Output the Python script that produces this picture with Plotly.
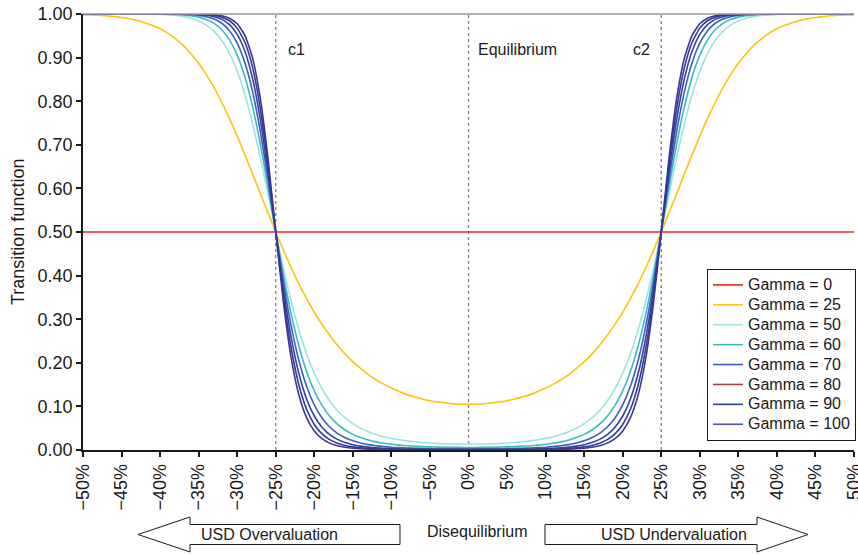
import plotly.graph_objects as go

# ---------------- data ----------------
# x positions, in percent of disequilibrium
x_pct = [-50, -49, -48, -47, -46, -45, -44, -43, -42, -41, -40, -39, -38, -37, -36, -35, -34, -33, -32, -31,
         -30, -29, -28, -27, -26, -25, -24, -23, -22, -21, -20, -19, -18, -17, -16, -15, -14, -13, -12, -11,
         -10, -9, -8, -7, -6, -5, -4, -3, -2, -1, 0, 1, 2, 3, 4, 5, 6, 7, 8, 9,
         10, 11, 12, 13, 14, 15, 16, 17, 18, 19, 20, 21, 22, 23, 24, 25, 26, 27, 28, 29,
         30, 31, 32, 33, 34, 35, 36, 37, 38, 39, 40, 41, 42, 43, 44, 45, 46, 47, 48, 49, 50]

# readings for x = 0%, 1%, ... 50% (the chart is symmetric about 0%)
g25_half = [0.105, 0.105, 0.106, 0.108, 0.110, 0.113, 0.117, 0.122, 0.127, 0.134,
            0.142, 0.151, 0.161, 0.173, 0.187, 0.202, 0.220, 0.240, 0.263, 0.288,
            0.316, 0.347, 0.381, 0.418, 0.458, 0.500, 0.544, 0.588, 0.633, 0.677,
            0.720, 0.760, 0.797, 0.831, 0.861, 0.887, 0.909, 0.928, 0.943, 0.956,
            0.966, 0.974, 0.980, 0.985, 0.989, 0.992, 0.994, 0.996, 0.997, 0.998, 0.998]
g50_half = [0.0136, 0.0137, 0.0139, 0.0144, 0.0151, 0.0161, 0.0173, 0.0189, 0.0209, 0.0234,
            0.0266, 0.0305, 0.0356, 0.0420, 0.0501, 0.0604, 0.0737, 0.0907, 0.1126, 0.1405,
            0.1760, 0.2206, 0.2754, 0.3411, 0.4167, 0.5000, 0.5866, 0.6711, 0.7485, 0.8149,
            0.8684, 0.9093, 0.9392, 0.9602, 0.9745, 0.9840, 0.9901, 0.9940, 0.9964, 0.9979,
            0.9988, 0.9993, 0.9996, 0.9998, 0.9999, 0.9999, 1.0, 1.0, 1.0, 1.0, 1.0]
g60_half = [0.0058, 0.0059, 0.0060, 0.0063, 0.0066, 0.0071, 0.0078, 0.0087, 0.0098, 0.0112,
            0.0131, 0.0156, 0.0187, 0.0229, 0.0285, 0.0358, 0.0458, 0.0592, 0.0775, 0.1022,
            0.1356, 0.1803, 0.2386, 0.3121, 0.4005, 0.5000, 0.6034, 0.7018, 0.7873, 0.8554,
            0.9058, 0.9408, 0.9639, 0.9785, 0.9875, 0.9929, 0.9960, 0.9978, 0.9988, 0.9994,
            0.9997, 0.9998, 0.9999, 1.0, 1.0, 1.0, 1.0, 1.0, 1.0, 1.0, 1.0]
g70_half = [0.0025, 0.0025, 0.0026, 0.0027, 0.0029, 0.0031, 0.0035, 0.0040, 0.0046, 0.0054,
            0.0064, 0.0079, 0.0098, 0.0124, 0.0160, 0.0210, 0.0281, 0.0382, 0.0527, 0.0735,
            0.1034, 0.1460, 0.2053, 0.2846, 0.3845, 0.5000, 0.6200, 0.7307, 0.8215, 0.8883,
            0.9334, 0.9618, 0.9788, 0.9885, 0.9939, 0.9969, 0.9984, 0.9992, 0.9996, 0.9998,
            0.9999, 1.0, 1.0, 1.0, 1.0, 1.0, 1.0, 1.0, 1.0, 1.0, 1.0]
g80_half = [0.0010, 0.0011, 0.0011, 0.0012, 0.0013, 0.0014, 0.0016, 0.0018, 0.0021, 0.0025,
            0.0031, 0.0039, 0.0051, 0.0067, 0.0089, 0.0122, 0.0171, 0.0244, 0.0354, 0.0522,
            0.0780, 0.1171, 0.1753, 0.2584, 0.3687, 0.5000, 0.6365, 0.7580, 0.8514, 0.9146,
            0.9534, 0.9756, 0.9876, 0.9939, 0.9971, 0.9986, 0.9994, 0.9997, 0.9999, 1.0,
            1.0, 1.0, 1.0, 1.0, 1.0, 1.0, 1.0, 1.0, 1.0, 1.0, 1.0]
g90_half = [0.0004, 0.0005, 0.0005, 0.0005, 0.0005, 0.0006, 0.0007, 0.0008, 0.0010, 0.0012,
            0.0015, 0.0020, 0.0026, 0.0036, 0.0050, 0.0071, 0.0104, 0.0155, 0.0237, 0.0370,
            0.0585, 0.0934, 0.1491, 0.2340, 0.3532, 0.5000, 0.6525, 0.7832, 0.8769, 0.9351,
            0.9676, 0.9845, 0.9928, 0.9968, 0.9986, 0.9994, 0.9997, 0.9999, 1.0, 1.0,
            1.0, 1.0, 1.0, 1.0, 1.0, 1.0, 1.0, 1.0, 1.0, 1.0, 1.0]
g100_half = [0.0002, 0.0002, 0.0002, 0.0002, 0.0002, 0.0003, 0.0003, 0.0004, 0.0005, 0.0006,
             0.0007, 0.0010, 0.0014, 0.0019, 0.0028, 0.0041, 0.0063, 0.0099, 0.0158, 0.0260,
             0.0437, 0.0742, 0.1262, 0.2113, 0.3380, 0.5000, 0.6681, 0.8065, 0.8986, 0.9509,
             0.9775, 0.9901, 0.9958, 0.9983, 0.9993, 0.9997, 0.9999, 1.0, 1.0, 1.0,
             1.0, 1.0, 1.0, 1.0, 1.0, 1.0, 1.0, 1.0, 1.0, 1.0, 1.0]
g0_half = [0.5] * 51


def mirrored(half):
    # left side (-50% .. -1%) read as the mirror image of the right side
    return half[:0:-1] + half


series_names = ["Gamma = 0", "Gamma = 25", "Gamma = 50", "Gamma = 60",
                "Gamma = 70", "Gamma = 80", "Gamma = 90", "Gamma = 100"]
series_values = [mirrored(h) for h in (g0_half, g25_half, g50_half, g60_half,
                                       g70_half, g80_half, g90_half, g100_half)]
line_colors = ["#e8231c", "#fbc40e", "#9fe3de", "#37bcc0",
               "#3b5fbd", "#34419f", "#2b3b9e", "#3f3494"]
legend_colors = ["#e8231c", "#fbc40e", "#9fe3de", "#37bcc0",
                 "#3b5fbd", "#a3463f", "#2b3b9e", "#5553b0"]

x_ticks = [-50, -45, -40, -35, -30, -25, -20, -15, -10, -5, 0, 5, 10, 15, 20, 25, 30, 35, 40, 45, 50]
x_ticktext = [("\u2212" + str(-t) if t < 0 else str(t)) + "%" for t in x_ticks]
y_ticks = [0.0, 0.1, 0.2, 0.3, 0.4, 0.5, 0.6, 0.7, 0.8, 0.9, 1.0]
ref_lines = [-25, 0, 25]

# ---------------- layout helpers ----------------
W, H = 858, 555
L, R, T, B = 83, 854, 14, 450
FONT = "Liberation Sans, Arial, Helvetica, sans-serif"


def px_x(px):
    return (px - L) / (R - L)


def px_y(py):
    return (B - py) / (B - T)


def legend_label(name):
    return '<span style="font-size:16px">' + name + '</span>'


fig = go.Figure()

for rank, (name, vals, lc, gc) in enumerate(zip(series_names, series_values, line_colors, legend_colors)):
    same = lc == gc
    fig.add_trace(go.Scatter(
        x=x_pct, y=vals, mode="lines", name=legend_label(name),
        line=dict(color=lc, width=1.6, shape="spline", smoothing=0.5),
        showlegend=same, legendgroup=name, legendrank=rank + 1, hoverinfo="skip"))
    if not same:
        fig.add_trace(go.Scatter(
            x=[None], y=[None], mode="lines", name=legend_label(name),
            line=dict(color=gc, width=1.6), legendgroup=name, legendrank=rank + 1))

shapes = []
for xv in ref_lines:
    shapes.append(dict(type="line", xref="x", yref="paper", x0=xv, x1=xv, y0=0, y1=1,
                       line=dict(color="#808080", width=1.3, dash="dot"), layer="below"))
shapes.append(dict(type="line", xref="paper", yref="paper", x0=0, x1=1, y0=1, y1=1,
                   line=dict(color="#999999", width=1.5)))


def poly(points):
    return "M " + " L ".join(f"{px_x(a):.5f},{px_y(b):.5f}" for a, b in points) + " Z"


left_arrow = [(138, 534.5), (190, 517), (190, 524.5), (400, 524.5), (400, 544.5), (190, 544.5), (190, 552)]
right_arrow = [(545, 524.5), (757, 524.5), (757, 517), (808, 534.5), (757, 552), (757, 544.5), (545, 544.5)]
for pts in (left_arrow, right_arrow):
    shapes.append(dict(type="path", xref="paper", yref="paper", path=poly(pts),
                       fillcolor="white", line=dict(color="#1a1a1a", width=1)))

ann_font = dict(family=FONT, size=16, color="#1a1a1a")
annotations = [
    dict(text="c1", x=px_x(286), y=px_y(49), xanchor="left", yanchor="middle"),
    dict(text="Equilibrium", x=px_x(476), y=px_y(49), xanchor="left", yanchor="middle"),
    dict(text="c2", x=px_x(631), y=px_y(49), xanchor="left", yanchor="middle"),
    dict(text="USD Overvaluation", x=px_x(269), y=px_y(534.5), xanchor="center", yanchor="middle"),
    dict(text="USD Undervaluation", x=px_x(674), y=px_y(534.5), xanchor="center", yanchor="middle"),
    dict(text="Disequilibrium", x=px_x(477), y=px_y(531), xanchor="center", yanchor="middle"),
    dict(text="Transition function", x=px_x(18), y=0.5, xanchor="center", yanchor="middle",
         textangle=-90, font=dict(family=FONT, size=18, color="#1a1a1a")),
]
for a in annotations:
    a.update(xref="paper", yref="paper", showarrow=False)
    a.setdefault("font", ann_font)

fig.update_layout(
    width=W, height=H,
    margin=dict(l=L, r=W - R, t=T, b=H - B, autoexpand=False),
    paper_bgcolor="white", plot_bgcolor="white",
    font=dict(family=FONT, size=18, color="#1a1a1a"),
    showlegend=True,
    legend=dict(x=px_x(856), y=px_y(269), xanchor="right", yanchor="top",
                bgcolor="white", bordercolor="#1a1a1a", borderwidth=1,
                font=dict(family=FONT, size=13, color="#1a1a1a"),
                tracegroupgap=0, itemwidth=30),
    shapes=shapes,
    annotations=annotations,
    xaxis=dict(range=[-50, 50], tickmode="array", tickvals=x_ticks, ticktext=x_ticktext,
               tickangle=-90, ticks="outside", ticklen=5, tickwidth=1.5, tickcolor="#1a1a1a",
               ticklabeloverflow="allow",
               showline=True, linecolor="#1a1a1a", linewidth=1.5, showgrid=False, zeroline=False,
               tickfont=dict(family=FONT, size=18, color="#1a1a1a")),
    yaxis=dict(range=[0, 1], tickmode="array", tickvals=y_ticks, tickformat=".2f",
               ticks="outside", ticklen=5, tickwidth=1.5, tickcolor="#1a1a1a",
               showline=True, linecolor="#1a1a1a", linewidth=1.5, showgrid=False, zeroline=False,
               tickfont=dict(family=FONT, size=18, color="#1a1a1a")),
)

fig.write_html("out.html")
